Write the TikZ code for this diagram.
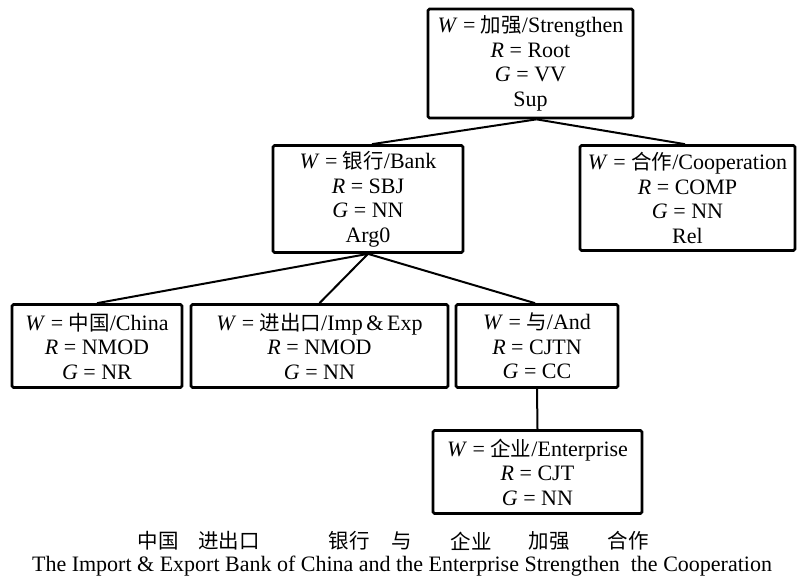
\documentclass[tikz,border=0pt]{standalone}
\usepackage{fontspec}
\setmainfont{Liberation Serif}
\newfontfamily\cjk{Noto Sans CJK SC}
\newcommand{\zh}[1]{{\cjk\fontsize{20.5}{24.5}\selectfont #1}}
\newcommand{\vi}[1]{\textit{#1}}
\begin{document}
\begin{tikzpicture}[x=1pt,y=-1pt,
  box/.style={draw, line width=2.7pt, rounded corners=1.5pt, inner sep=0pt, align=center,
    font=\fontsize{22}{24.5}\selectfont},
  link/.style={line width=2pt},
  lbl/.style={inner sep=0pt, font=\fontsize{22}{24.5}\selectfont}]
\useasboundingbox (0,0) rectangle (798,579);
\node[box, minimum width=205pt, minimum height=109pt] (root) at (530.5,63.5)
  {\vi{W} = \zh{加强}/Strengthen\\ \vi{R} = Root\\ \vi{G} = VV\\ Sup};
\node[box, minimum width=190pt, minimum height=107pt] (bank) at (368,199)
  {\vi{W} = \zh{银行}/Bank\\ \vi{R} = SBJ\\ \vi{G} = NN\\ Arg0};
\node[box, minimum width=215pt, minimum height=105pt] (coop) at (687.5,198)
  {\vi{W} = \zh{合作}/Cooperation\\ \vi{R} = COMP\\ \vi{G} = NN\\ Rel};
\node[box, minimum width=170pt, minimum height=83pt] (china) at (97,346)
  {\vi{W} = \zh{中国}/China\\ \vi{R} = NMOD\\ \vi{G} = NR};
\node[box, minimum width=257pt, minimum height=83pt] (imp) at (319.5,346)
  {\vi{W} = \zh{进出口}/Imp\,\&\,Exp\\ \vi{R} = NMOD\\ \vi{G} = NN};
\node[box, minimum width=162pt, minimum height=83pt] (and) at (537,346)
  {\vi{W} = \zh{与}/And\\ \vi{R} = CJTN\\ \vi{G} = CC};
\node[box, minimum width=209pt, minimum height=83pt] (ent) at (537.5,472)
  {\vi{W} = \zh{企业}/Enterprise\\ \vi{R} = CJT\\ \vi{G} = NN};

\draw[link] ([xshift=6pt]root.south) -- ([xshift=4pt]bank.north);
\draw[link] ([xshift=6pt]root.south) -- ([xshift=-2.5pt]coop.north);
\draw[link] (bank.south) -- (china.north);
\draw[link] (bank.south) -- (imp.north);
\draw[link] (bank.south) -- ([xshift=-2pt]and.north);
\draw[link] (and.south) -- (ent.north);

\node[lbl] (c1) at (158,541) {\zh{中国}};
\node[lbl] (c2) at (229,541) {\zh{进出口}};
\node[lbl] (c3) at (349,541) {\zh{银行}};
\node[lbl] (c4) at (402,541) {\zh{与}};
\node[lbl] (c5) at (471,541) {\zh{企业}};
\node[lbl] (c6) at (549,541) {\zh{加强}};
\node[lbl] (c7) at (628,541) {\zh{合作}};
\node[lbl] (eng) at (402,566) {The Import \& Export Bank of China and the Enterprise Strengthen\ \ the Cooperation};
\end{tikzpicture}
\end{document}
